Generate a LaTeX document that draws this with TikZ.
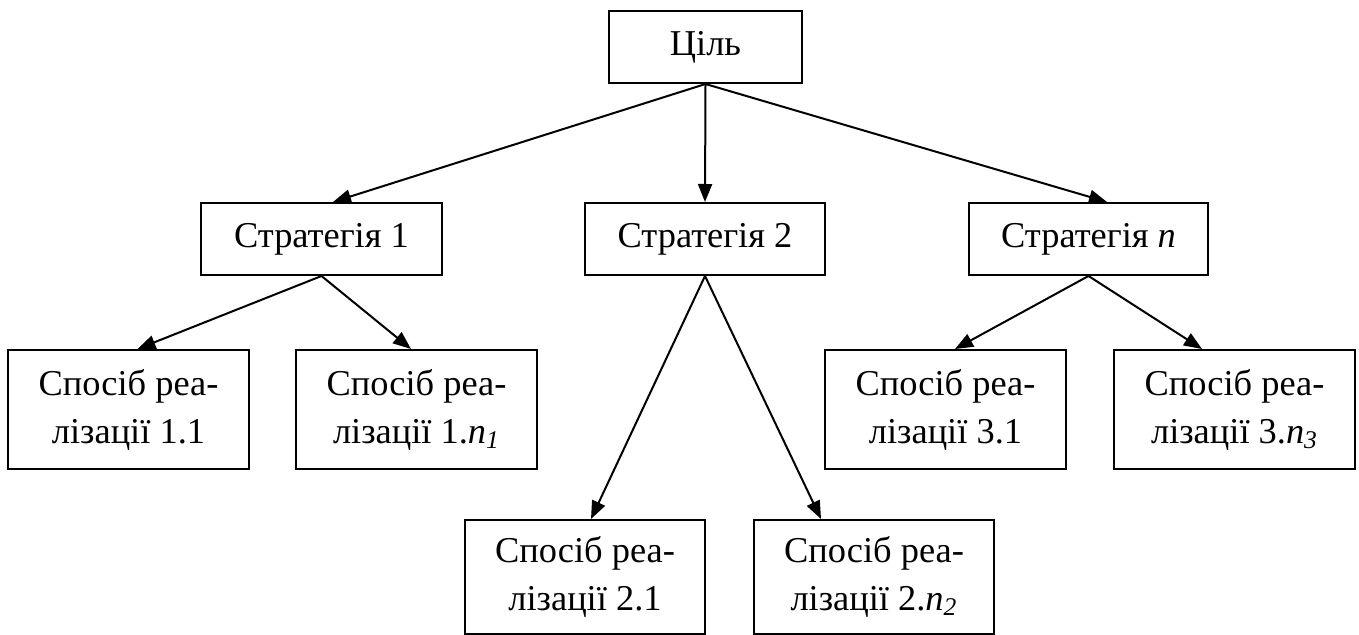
\documentclass[tikz,border=0pt]{standalone}
\usepackage{fontspec}
\setmainfont{Liberation Serif}
\usetikzlibrary{arrows.meta}
\begin{document}
\begin{tikzpicture}[x=0.5pt,y=-0.5pt,
  box/.style={draw, line width=1pt, inner sep=0pt, align=center,
    font=\fontsize{18.2}{24}\selectfont},
  arr/.style={line width=1pt, -{Triangle[length=9pt,width=7pt]}}]
\useasboundingbox (0,0) rectangle (1359,635);
\node[box, minimum width=96.5pt, minimum height=36pt] (goal) at (705.5,47) {Ціль};
\node[box, minimum width=120.5pt, minimum height=36pt] (s1) at (321.5,239) {Стратегія 1};
\node[box, minimum width=120pt, minimum height=36pt] (s2) at (705,239) {Стратегія 2};
\node[box, minimum width=119.5pt, minimum height=36pt] (sn) at (1088.5,239) {Стратегія \textit{n}};
\node[box, minimum width=120.5pt, minimum height=59.5pt] (m11) at (128.5,409.5) {Спосіб реа-\\лізації 1.1};
\node[box, minimum width=120.5pt, minimum height=59.5pt] (m1n) at (416.5,409.5) {Спосіб реа-\\лізації 1.\textit{n}\textsubscript{\textit{1}}};
\node[box, minimum width=120.5pt, minimum height=59.5pt] (m31) at (945.5,409.5) {Спосіб реа-\\лізації 3.1};
\node[box, minimum width=120.5pt, minimum height=59.5pt] (m3n) at (1234.5,409.5) {Спосіб реа-\\лізації 3.\textit{n}\textsubscript{\textit{3}}};
\node[box, minimum width=120pt, minimum height=57pt] (m21) at (585,577) {Спосіб реа-\\лізації 2.1};
\node[box, minimum width=120pt, minimum height=57pt] (m2n) at (874,577) {Спосіб реа-\\лізації 2.\textit{n}\textsubscript{\textit{2}}};
\draw[arr] (goal.south) -- ([xshift=5.75pt]s1.north);
\draw[arr] (goal.south) -- (s2.north);
\draw[arr] (goal.south) -- ([xshift=9.25pt]sn.north);
\draw[arr] (s1.south) -- ([xshift=4.5pt]m11.north);
\draw[arr] (s1.south) -- ([xshift=-2.75pt]m1n.north);
\draw[arr] (s2.south) -- ([xshift=3pt]m21.north);
\draw[arr] (s2.south) -- ([xshift=-26.5pt]m2n.north);
\draw[arr] (sn.south) -- ([xshift=4.75pt]m31.north);
\draw[arr] (sn.south) -- ([xshift=-16.25pt]m3n.north);
\end{tikzpicture}
\end{document}
